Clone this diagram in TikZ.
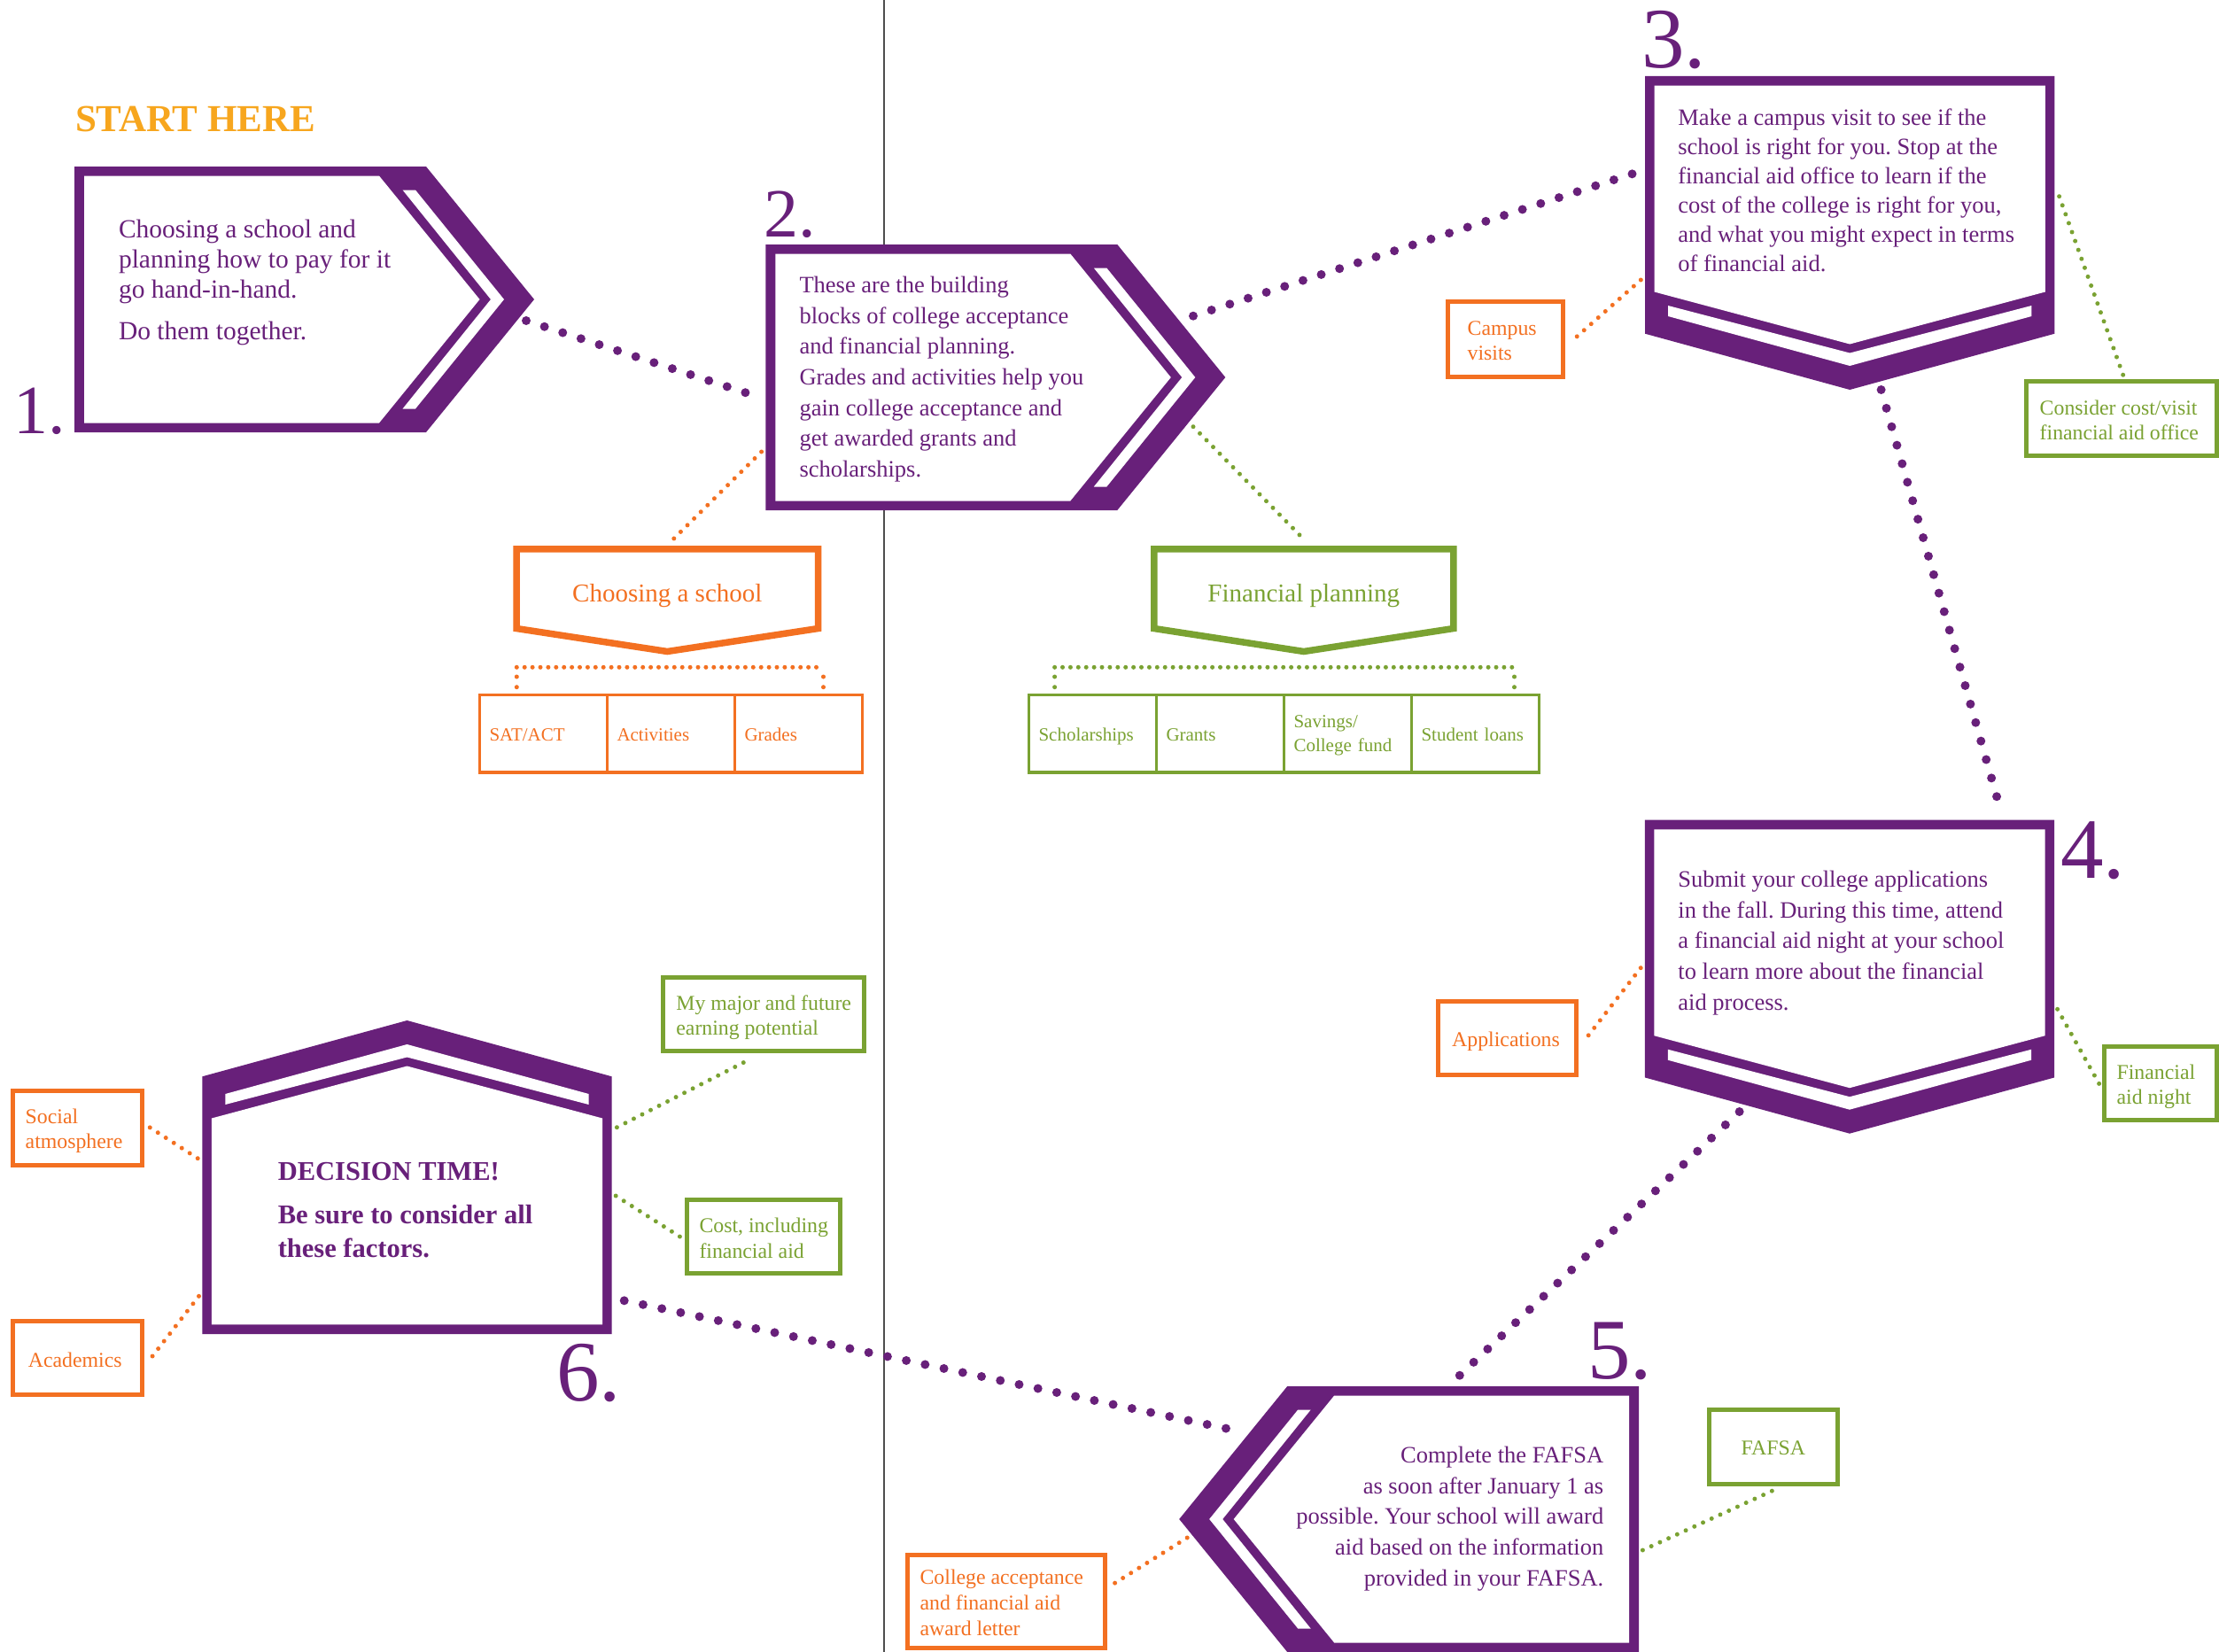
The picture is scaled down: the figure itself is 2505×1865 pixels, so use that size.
\documentclass[tikz,border=0pt]{standalone}
\usepackage{fontspec}
\setmainfont{Liberation Serif}
\definecolor{purp}{RGB}{104,32,122}
\definecolor{orng}{RGB}{243,112,33}
\definecolor{grn}{RGB}{122,162,50}
\definecolor{gold}{RGB}{247,166,30}
\definecolor{rulec}{RGB}{77,77,77}
\frenchspacing
\tikzset{
  every node/.style={inner sep=0pt, outer sep=0pt},
  bigdots/.style={purp, line width=10pt, line cap=round, dash pattern=on 0pt off 21.7pt},
  odots/.style={orng, line width=5pt, line cap=round, dash pattern=on 0pt off 10.7pt},
  gdots/.style={grn, line width=5pt, line cap=round, dash pattern=on 0pt off 10.7pt},
  obrk/.style={orng, line width=5pt, line cap=round, dash pattern=on 0pt off 8.9pt},
  gbrk/.style={grn, line width=5pt, line cap=round, dash pattern=on 0pt off 8.9pt},
  obox/.style={draw=orng, line width=5pt, fill=white},
  gbox/.style={draw=grn, line width=5pt, fill=white},
  otxt/.style={text=orng, font=\fontsize{23.8}{28.6}\selectfont, anchor=base west},
  gtxt/.style={text=grn, font=\fontsize{23.8}{28.6}\selectfont, anchor=base west},
  ocell/.style={draw=orng, text=orng, fill=white, line width=3.5pt, anchor=north west, minimum width=144pt, minimum height=87.3pt, inner xsep=11pt, text width=122pt, align=left, font=\fontsize{21}{26.6}\selectfont, text height=17pt, text depth=0pt},
  gcell/.style={ocell, draw=grn, text=grn},
  body/.style={text=purp, font=\fontsize{26.5}{34.6}\selectfont},
  numeral/.style={text=purp, anchor=base west},
  pent/.style={line width=7.5pt, fill=white, line join=miter},
}
\newcommand\arrowshape[3]{%
  \begin{scope}[shift={(#1,#2)},xscale=#3]
    \fill[purp] (0,0) -- (397,0) -- (519,150) -- (397,300) -- (0,300) -- cycle;
    \fill[white] (11,10.5) -- (344,10.5) -- (457.5,150) -- (344,289.5) -- (11,289.5) -- cycle;
    \fill[white] (370.5,26.5) -- (385,26.5) -- (485,150) -- (385,273.5) -- (370.5,273.5) -- (470,150) -- cycle;
  \end{scope}}
\newcommand\chevshape[3]{%
  \begin{scope}[shift={(#1,#2)},yscale=#3]
    \fill[purp] (0,0) -- (462.4,0) -- (462.4,290.7) -- (231.2,354) -- (0,290.7) -- cycle;
    \fill[white] (10.5,10.7) -- (451.9,10.7) -- (451.9,243.5) -- (231.2,302.5) -- (10.5,243.5) -- cycle;
    \fill[white] (26,259) -- (231.2,312.5) -- (436.4,259) -- (436.4,271) -- (231.2,327) -- (26,271) -- cycle;
  \end{scope}}
\begin{document}
\begin{tikzpicture}[x=1pt,y=-1pt]
\useasboundingbox (0,0) rectangle (2505,1865);
\fill[white] (0,0) rectangle (2505,1865);
% divider rule
\coordinate (rtop) at (998,0);
\coordinate (rbot) at (998,1865);
\draw[rulec, line width=2pt] (rtop) -- (rbot);

% connector end points
\coordinate (p1a) at (594,362);   \coordinate (p2a) at (856,448);
\coordinate (p2b) at (1347,356.7); \coordinate (p3a) at (1846.7,195);
\coordinate (p3b) at (2123.6,440); \coordinate (p4a) at (2259,916.7);
\coordinate (p4b) at (1963.6,1255); \coordinate (p5a) at (1641.9,1558.3);
\coordinate (p6a) at (704.7,1468.3); \coordinate (p5b) at (1403.4,1616.7);

\coordinate (q2o) at (859.6,510);  \coordinate (qcho) at (757,611.7);
\coordinate (q2g) at (1347,481.7); \coordinate (qfin) at (1473,610);
\coordinate (q3o) at (1852.3,316); \coordinate (qcam) at (1773.3,386);
\coordinate (q3g) at (2324.6,221.7); \coordinate (qcon) at (2396.7,423.3);
\coordinate (q4o) at (1852.2,1092.7); \coordinate (qapp) at (1787.6,1176);
\coordinate (q4g) at (2322.6,1139.3); \coordinate (qfan) at (2370.5,1225);
\coordinate (q6s) at (223.2,1307.7); \coordinate (qsoc) at (169,1272.7);
\coordinate (q6a) at (224.5,1463.3); \coordinate (qaca) at (169,1535);
\coordinate (q6m) at (696.4,1272.7); \coordinate (qmaj) at (848.2,1195);
\coordinate (q6c) at (695.2,1350); \coordinate (qcos) at (768.5,1396.7);
\coordinate (q5g) at (1854.4,1750); \coordinate (qfaf) at (2008.8,1679.3);
\coordinate (q5o) at (1340.2,1736); \coordinate (qcol) at (1254,1790);

% purple connectors
\draw[bigdots] (p1a) -- (p2a);
\draw[bigdots] (p2b) -- (p3a);
\draw[bigdots] (p3b) -- (p4a);
\draw[bigdots] (p4b) -- (p5a);
\draw[bigdots] (p6a) -- (p5b);

% thin connectors
\draw[odots] (q2o) -- (qcho);
\draw[gdots] (q2g) -- (qfin);
\draw[odots] (q3o) -- (qcam);
\draw[gdots] (q3g) -- (qcon);
\draw[odots] (q4o) -- (qapp);
\draw[gdots] (q4g) -- (qfan);
\draw[odots] (q6s) -- (qsoc);
\draw[odots] (q6a) -- (qaca);
\draw[gdots] (q6m) -- (qmaj);
\draw[gdots] (q6c) -- (qcos);
\draw[gdots] (q5g) -- (qfaf);
\draw[odots] (q5o) -- (qcol);

% brackets
\coordinate (ob1) at (583.3,753.3); \coordinate (ob2) at (929.5,753.3);
\coordinate (ol1) at (583.3,764); \coordinate (ol2) at (583.3,776);
\coordinate (or1) at (929.5,764); \coordinate (or2) at (929.5,776);
\draw[obrk] (ob1) -- (ob2);
\draw[obrk, dash pattern=on 0pt off 11.7pt] (ol1) -- (ol2);
\draw[obrk, dash pattern=on 0pt off 11.7pt] (or1) -- (or2);
\coordinate (gb1) at (1190.6,753.3); \coordinate (gb2) at (1709.5,753.3);
\coordinate (gl1) at (1190.6,764); \coordinate (gl2) at (1190.6,776);
\coordinate (gr1) at (1709.5,764); \coordinate (gr2) at (1709.5,776);
\draw[gbrk] (gb1) -- (gb2);
\draw[gbrk, dash pattern=on 0pt off 11.7pt] (gl1) -- (gl2);
\draw[gbrk, dash pattern=on 0pt off 11.7pt] (gr1) -- (gr2);

% big shapes
\arrowshape{84}{188}{1}
\arrowshape{864.3}{276}{1}
\chevshape{1857}{86}{1}
\chevshape{1856.8}{925.7}{1}
\arrowshape{1850.2}{1565}{-1}
\chevshape{228.3}{1506}{-1}

% pentagons
\draw[pent, draw=orng] (583,619.8) -- (923.6,619.8) -- (923.6,709.5) -- (753.3,735.5) -- (583,709.5) -- cycle;
\draw[pent, draw=grn] (1302.8,619.8) -- (1640.8,619.8) -- (1640.8,709.5) -- (1471.8,735.5) -- (1302.8,709.5) -- cycle;
\node[text=orng, anchor=base, font=\fontsize{29}{34}\selectfont] (choose) at (753.3,679) {Choosing a school};
\node[text=grn, anchor=base, font=\fontsize{29}{34}\selectfont] (finplan) at (1471.8,679) {Financial planning};

% tables
\node[ocell] (sat) at (541.5,784.7) {SAT/ACT};
\node[ocell] (act) at (685.5,784.7) {Activities};
\node[ocell] (grd) at (829.5,784.7) {Grades};
\node[gcell] (sch) at (1161.5,784.7) {Scholarships};
\node[gcell] (gra) at (1305.5,784.7) {Grants};
\node[gcell, text height=15pt, text depth=28pt] (sav) at (1449.5,784.7) {Savings/\\College fund};
\node[gcell] (stu) at (1593.5,784.7) {Student loans};

% small boxes
\node[obox, minimum width=130pt, minimum height=84.4pt] (campus) at (1699.2,383) {};
\node[gbox, minimum width=215pt, minimum height=84pt] (consider) at (2395,472.8) {};
\node[obox, minimum width=155.4pt, minimum height=82.7pt] (apps) at (1701.6,1172.2) {};
\node[gbox, minimum width=126.6pt, minimum height=82.4pt] (fanight) at (2439.2,1223) {};
\node[obox, minimum width=146pt, minimum height=83.7pt] (social) at (87,1273.4) {};
\node[obox, minimum width=146pt, minimum height=83.3pt] (acad) at (87,1533.2) {};
\node[gbox, minimum width=226.5pt, minimum height=83.3pt] (major) at (862,1145.2) {};
\node[gbox, minimum width=173.5pt, minimum height=82.7pt] (cost) at (862.2,1396.2) {};
\node[gbox, minimum width=144.4pt, minimum height=83.4pt] (fafsa) at (2002.1,1633.5) {};
\node[obox, minimum width=222.9pt, minimum height=105pt] (college) at (1135.8,1808.3) {};

\node[otxt] (campusT) at (1656.7,378.3) {\parbox[t]{200pt}{\raggedright Campus\\visits}};
\node[gtxt] (considerT) at (2302.7,468.3) {\parbox[t]{220pt}{\raggedright Consider cost/visit\\financial aid office}};
\node[otxt] (appsT) at (1639.2,1181.7) {Applications};
\node[gtxt] (fanightT) at (2389.6,1218) {\parbox[t]{200pt}{\raggedright Financial\\aid night}};
\node[otxt] (socialT) at (28.7,1268.3) {\parbox[t]{200pt}{\raggedright Social\\atmosphere}};
\node[otxt] (acadT) at (31.9,1543.3) {Academics};
\node[gtxt] (majorT) at (763.4,1140) {\parbox[t]{240pt}{\raggedright My major and future\\earning potential}};
\node[gtxt] (costT) at (789.5,1391.7) {\parbox[t]{200pt}{\raggedright Cost, including\\financial aid}};
\node[gtxt, anchor=base] (fafsaT) at (2001.8,1642.7) {FAFSA};
\node[otxt, font=\fontsize{23.8}{29}\selectfont] (collegeT) at (1038.6,1788.3) {\parbox[t]{240pt}{\raggedright College acceptance\\and financial aid\\award letter}};

% title and numerals
\node[text=gold, anchor=base west, font=\fontsize{43}{50}\bfseries] (start) at (85,148) {START HERE};
\node[numeral, font=\fontsize{78}{80}\selectfont] (n1) at (15,489) {1.};
\node[numeral, font=\fontsize{78}{80}\selectfont] (n2) at (862,267) {2.};
\node[numeral, font=\fontsize{97}{100}\selectfont] (n3) at (1853,76.7) {3.};
\node[numeral, font=\fontsize{97}{100}\selectfont] (n4) at (2326,991.7) {4.};
\node[numeral, font=\fontsize{97}{100}\selectfont] (n5) at (1792,1556.7) {5.};
\node[numeral, font=\fontsize{97}{100}\selectfont] (n6) at (628,1581.7) {6.};

% box texts
\node[text=purp, anchor=base west, font=\fontsize{29.5}{34.2}\selectfont] (t1) at (134,268.3)
  {\parbox[t]{420pt}{\raggedright Choosing a school and\\planning how to pay for it\\go hand-in-hand.\\[12.4pt]Do them together.}};
\node[body, anchor=base west] (t2) at (902.5,330.7)
  {\parbox[t]{420pt}{\raggedright These are the building\\blocks of college acceptance\\and financial planning.\\Grades and activities help you\\gain college acceptance and\\get awarded grants and\\scholarships.}};
\node[body, anchor=base west, font=\fontsize{26.5}{33}\selectfont] (t3) at (1894.3,141.7)
  {\parbox[t]{420pt}{\raggedright Make a campus visit to see if the\\school is right for you. Stop at the\\financial aid office to learn if the\\cost of the college is right for you,\\and what you might expect in terms\\of financial aid.}};
\node[body, anchor=base west] (t4) at (1894.4,1001.7)
  {\parbox[t]{420pt}{\raggedright Submit your college applications\\in the fall. During this time, attend\\a financial aid night at your school\\to learn more about the financial\\aid process.}};
\node[body, anchor=base east] (t5) at (1810.3,1651.7)
  {\parbox[t]{420pt}{\raggedleft Complete the FAFSA\\as soon after January 1 as\\possible. Your school will award\\aid based on the information\\provided in your FAFSA.}};
\node[text=purp, anchor=base west, font=\fontsize{30.5}{38.3}\bfseries] (t6) at (313.8,1332.3)
  {\parbox[t]{420pt}{\raggedright DECISION TIME!\\[11pt]Be sure to consider all\\these factors.}};
\end{tikzpicture}
\end{document}
